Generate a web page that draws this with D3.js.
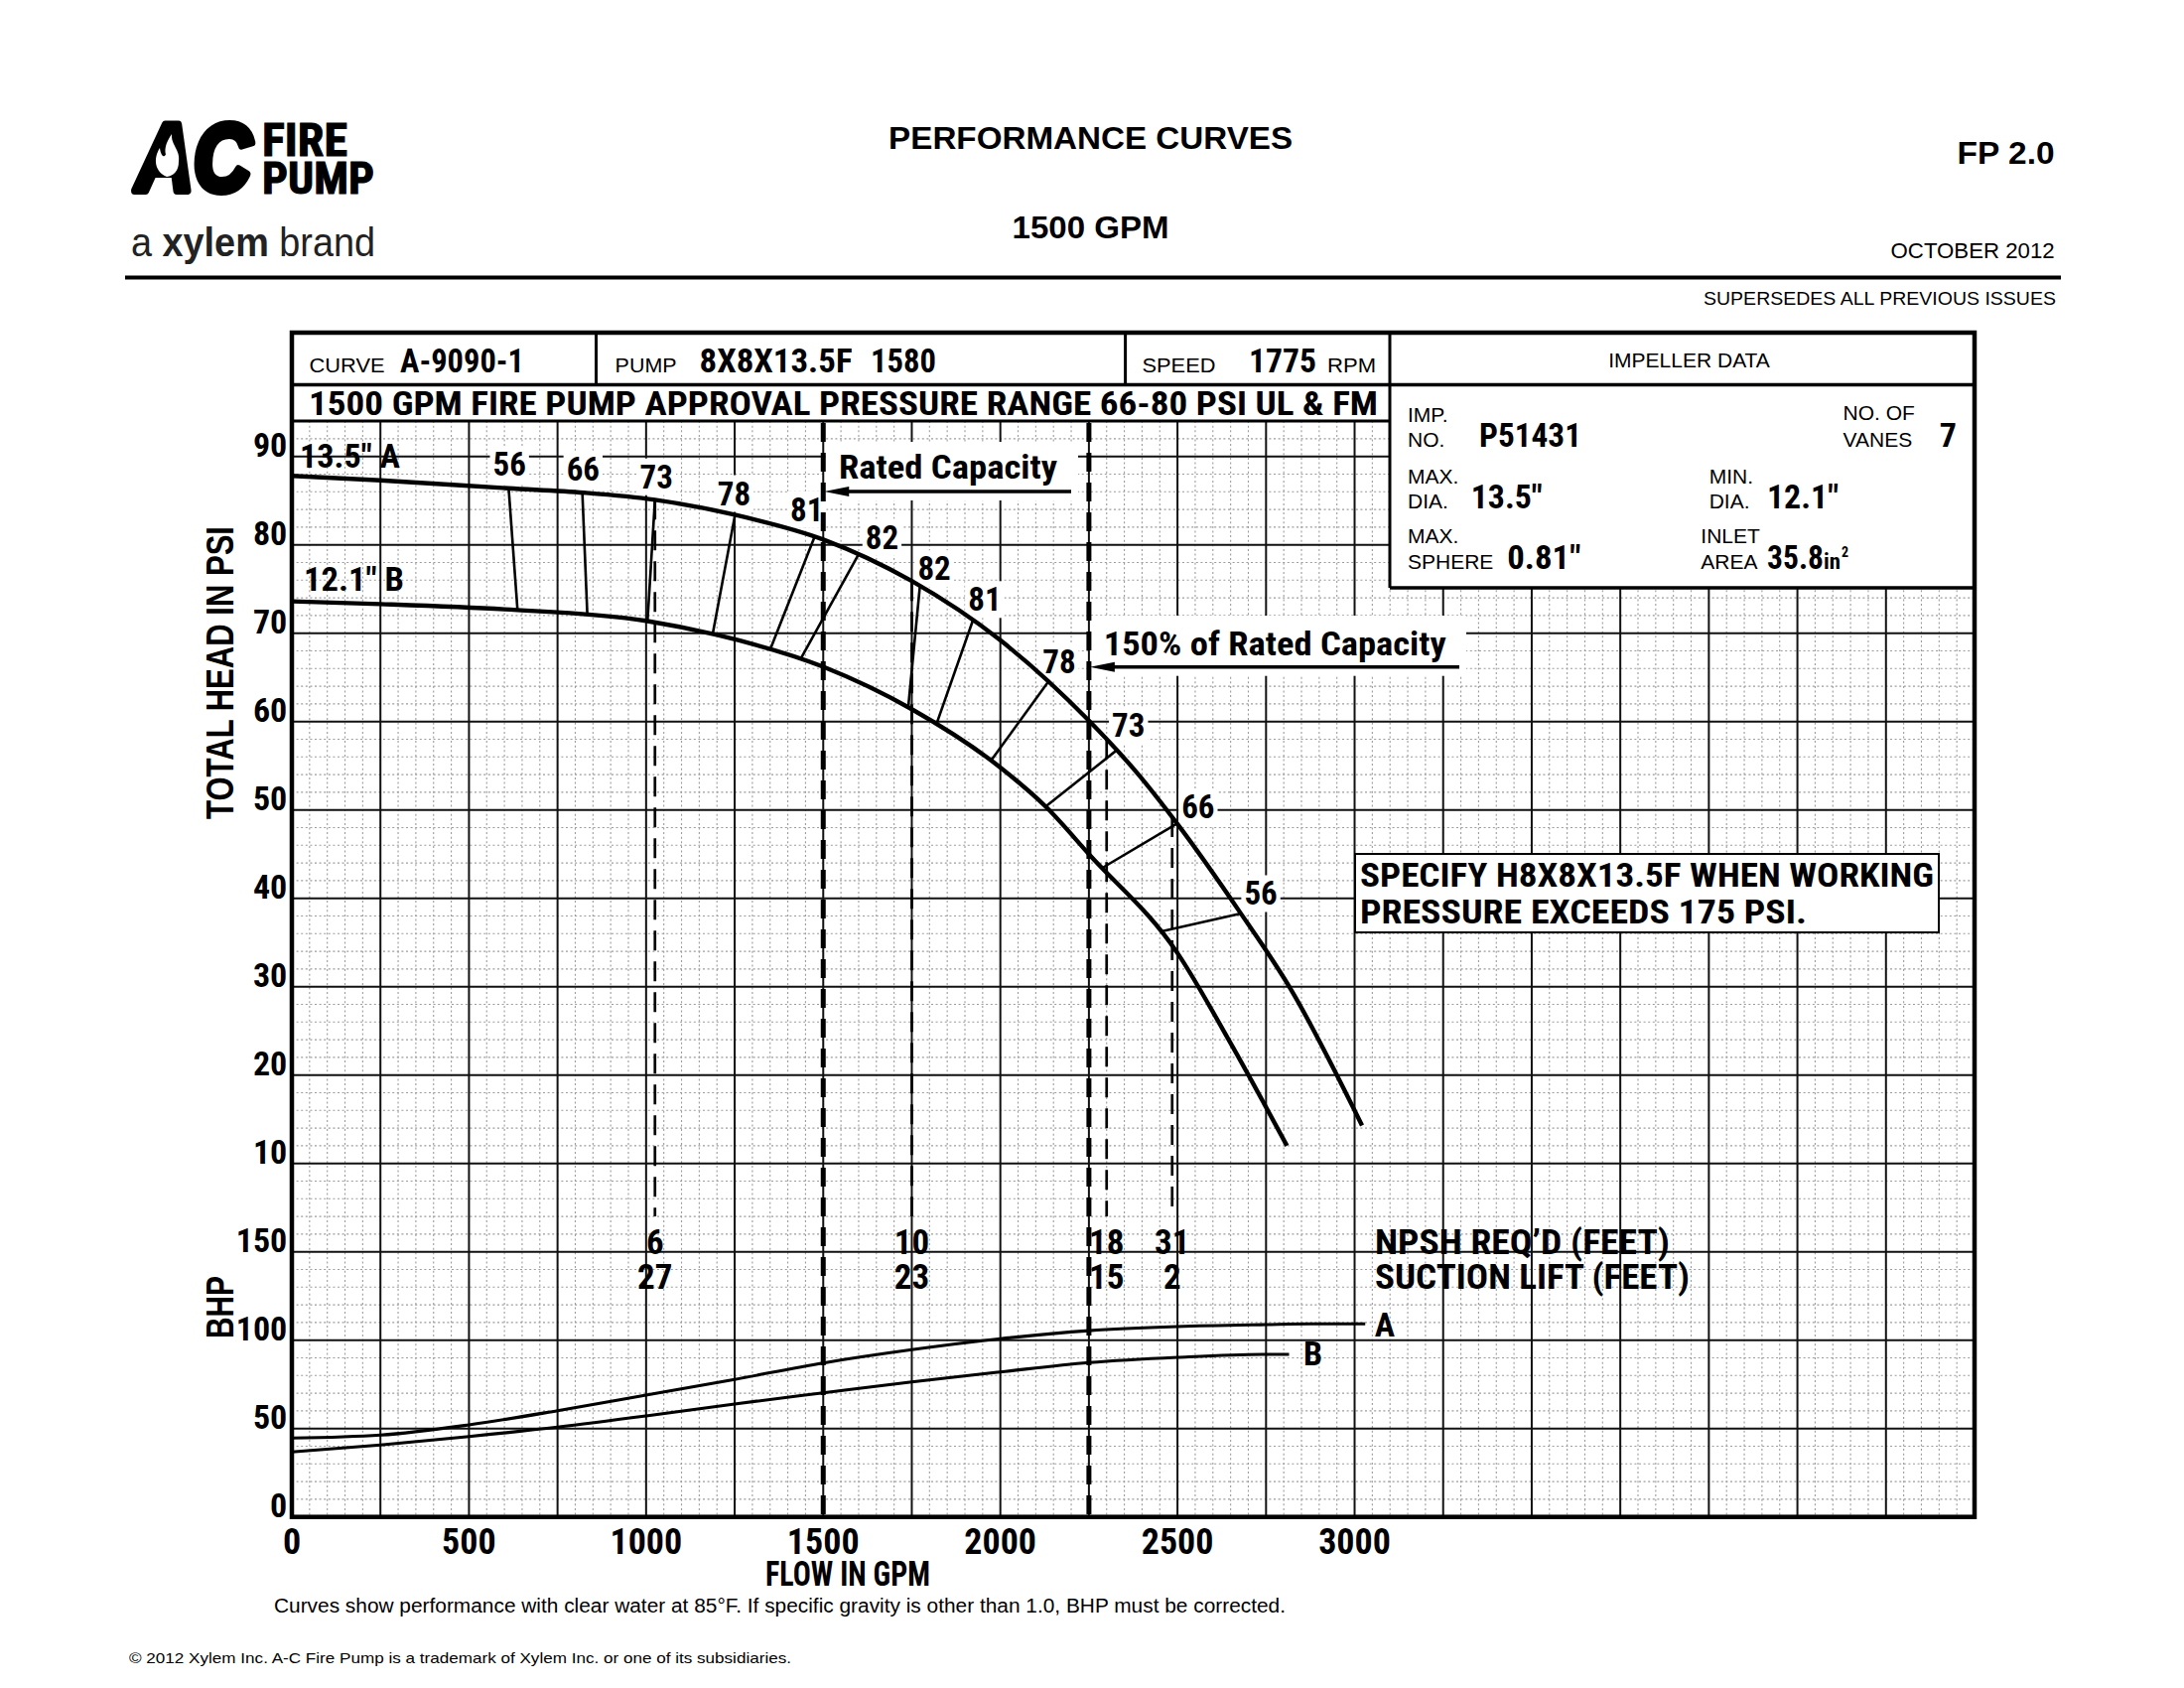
<!DOCTYPE html>
<html><head><meta charset="utf-8">
<script src="https://cdn.jsdelivr.net/npm/d3@7"></script>
<style>body{margin:0;background:#fff}svg{display:block}</style>
</head><body>
<svg id="c" width="2200" height="1700"></svg>
<script>
// ---------------- DATA ----------------
const flowTickLabels = [0, 500, 1000, 1500, 2000, 2500, 3000];
const headTickLabels = [10, 20, 30, 40, 50, 60, 70, 80, 90];
const bhpTickLabels = [0, 50, 100, 150];

// Head curves (psi vs GPM)
const headA_flow = [0, 250, 612, 825, 1025, 1250, 1500, 1750, 2000, 2250, 2390, 2500, 2670, 2820, 3021];
const headA_psi  = [87.8, 87.3, 86.4, 85.9, 85.1, 83.4, 80.6, 75.9, 69.2, 60.1, 54.0, 48.4, 38.8, 29.7, 14.3];
const headB_flow = [0, 250, 600, 1000, 1200, 1500, 1750, 2000, 2130, 2250, 2500, 2650, 2809];
const headB_psi  = [73.6, 73.3, 72.7, 71.4, 69.8, 66.2, 61.4, 54.8, 50.3, 45.0, 33.8, 23.6, 12.0];

// BHP curves
const bhpA_flow = [0, 250, 500, 750, 1000, 1250, 1500, 1750, 2000, 2250, 2500, 2750, 2876, 3030];
const bhpA_val  = [44.6, 46.3, 52.1, 60.1, 68.9, 77.8, 87.1, 94.6, 100.8, 105.4, 107.7, 108.8, 109.2, 109.2];
const bhpB_flow = [0, 250, 500, 750, 1000, 1250, 1500, 1750, 2000, 2250, 2500, 2750, 2815];
const bhpB_val  = [36.8, 40.7, 45.5, 50.8, 57.1, 63.9, 70.2, 76.4, 82.0, 87.3, 90.3, 92.0, 92.0];

// Efficiency iso-lines: label, flow where it meets curve A, flow where it meets curve B
const effLabels = ['56', '66', '73', '78', '81', '82', '82', '81', '78', '73', '66', '56'];
const effFlowA  = [612, 820, 1025, 1251, 1476, 1600, 1773, 1923, 2136, 2329, 2499, 2679];
const effFlowB  = [637, 834, 1004, 1188, 1351, 1437, 1740, 1820, 1974, 2128, 2287, 2455];

// NPSH / suction lift
const npshFlow    = [1025, 1750, 2300, 2485];
const npshReq     = ['6', '10', '18', '31'];
const suctionLift = ['27', '23', '15', '2'];

const ratedFlow = 1500;
const overloadFlow = 2250;

// ---------------- LAYOUT / STYLE ----------------
const NARROW = "'Liberation Sans Narrow','Arial Narrow','Roboto Condensed','DejaVu Sans Condensed','Liberation Sans',sans-serif";
const SANS = "'Liberation Sans',Arial,Helvetica,sans-serif";
// label nudges (px) relative to the curve-A end of each iso-line
const effNudge = [[0.8,-12.6],[0.7,-12],[1.5,-11.6],[-0.9,-10],[-8,-15.6],
                  [6.8,-5.5],[-2.3,-5.7],[-5,-9],[-6,-8],[-5,-13],[4.4,-5],[3.4,-8.6]];

const svg = d3.select('#c');
svg.append('rect').attr('width', 2200).attr('height', 1700).attr('fill', '#fff');

const x  = d3.scaleLinear().domain([0, 4750]).range([294, 1989]);
const yH = d3.scaleLinear().domain([0, 90]).range([1260.7, 459.7]);
const yB = d3.scaleLinear().domain([0, 150]).range([1527.7, 1260.7]);

const gGrid = svg.append('g');
const gBox  = svg.append('g');
const gBg   = svg.append('g');
const gFrame = svg.append('g');
const gLines = svg.append('g');
const gText  = svg.append('g');

function T(g, px, py, s, o = {}) {
  const t = g.append('text').attr('x', px).attr('y', py).text(s)
    .attr('font-family', o.ff || NARROW).attr('font-size', o.fs || 32)
    .attr('font-weight', o.fw || 'bold').attr('fill', '#000');
  if (o.anchor) t.attr('text-anchor', o.anchor);
  if (o.tl) t.attr('textLength', o.tl).attr('lengthAdjust', 'spacingAndGlyphs');
  return t;
}
function bgFor(node, pad = 3) {
  const b = node.getBBox();
  gBg.append('rect').attr('x', b.x - pad).attr('y', b.y + 4 - pad)
    .attr('width', b.width + 2 * pad).attr('height', b.height - 8 + 2 * pad).attr('fill', '#fff');
}

// ---------------- GRID ----------------
const gridTop = yH(94), gridBot = yB(0);
const minorX = d3.range(0, 4751, 50).filter(v => v % 250 !== 0);
const minorY = d3.range(-30, 94, 2).filter(v => v % 10 !== 0);
const majorX = d3.range(250, 4750, 250);
const majorY = d3.range(-20, 91, 10);

gGrid.selectAll('.mx').data(minorX).join('line')
  .attr('x1', d => x(d)).attr('x2', d => x(d)).attr('y1', gridTop).attr('y2', gridBot)
  .attr('stroke', '#9c9c9c').attr('stroke-width', 1.1).attr('stroke-dasharray', '2,2.6');
gGrid.selectAll('.my').data(minorY).join('line')
  .attr('x1', x(0)).attr('x2', x(4750)).attr('y1', d => yH(d)).attr('y2', d => yH(d))
  .attr('stroke', '#9c9c9c').attr('stroke-width', 1.1).attr('stroke-dasharray', '2,2.6');
gGrid.selectAll('.Mx').data(majorX).join('line')
  .attr('x1', d => x(d)).attr('x2', d => x(d)).attr('y1', gridTop).attr('y2', gridBot)
  .attr('stroke', '#111').attr('stroke-width', 2);
gGrid.selectAll('.My').data(majorY).join('line')
  .attr('x1', x(0)).attr('x2', x(4750)).attr('y1', d => yH(d)).attr('y2', d => yH(d))
  .attr('stroke', '#111').attr('stroke-width', 2);

// ---------------- HEADER TABLE ----------------
const tblTop = 335, row1 = 387.5, impBot = 592, impLeft = 1400;
gBox.append('rect').attr('x', impLeft).attr('y', tblTop).attr('width', x(4750) - impLeft).attr('height', impBot - tblTop).attr('fill', '#fff');
gBox.append('rect').attr('x', x(0)).attr('y', tblTop).attr('width', x(4750) - x(0)).attr('height', gridTop - tblTop).attr('fill', '#fff');

function fl(x1, y1, x2, y2, w) {
  gFrame.append('line').attr('x1', x1).attr('y1', y1).attr('x2', x2).attr('y2', y2)
    .attr('stroke', '#000').attr('stroke-width', w);
}
fl(x(0), row1, x(4750), row1, 3.5);
fl(x(0), gridTop, impLeft, gridTop, 3);
fl(impLeft, impBot, x(4750), impBot, 3.5);
fl(600.5, tblTop, 600.5, row1, 3);
fl(1133.6, tblTop, 1133.6, row1, 3);
fl(impLeft, tblTop, impLeft, impBot, 3);
gFrame.append('rect').attr('x', x(0)).attr('y', tblTop).attr('width', x(4750) - x(0)).attr('height', yB(0) - tblTop)
  .attr('fill', 'none').attr('stroke', '#000').attr('stroke-width', 4.5);

// ---------------- CURVES ----------------
const line = d3.line().x(d => x(d[0])).y(d => d[1]).curve(d3.curveMonotoneX);
const pA = gLines.append('path').attr('d', line(headA_flow.map((f, i) => [f, yH(headA_psi[i])])))
  .attr('fill', 'none').attr('stroke', '#000').attr('stroke-width', 4.4);
const pB = gLines.append('path').attr('d', line(headB_flow.map((f, i) => [f, yH(headB_psi[i])])))
  .attr('fill', 'none').attr('stroke', '#000').attr('stroke-width', 4.4);
const pBA = gLines.append('path').attr('d', line(bhpA_flow.map((f, i) => [f, yB(bhpA_val[i])])))
  .attr('fill', 'none').attr('stroke', '#000').attr('stroke-width', 3.1);
const pBB = gLines.append('path').attr('d', line(bhpB_flow.map((f, i) => [f, yB(bhpB_val[i])])))
  .attr('fill', 'none').attr('stroke', '#000').attr('stroke-width', 3.1);

function pointAtX(node, tx) {
  const L = node.getTotalLength(); let lo = 0, hi = L;
  for (let i = 0; i < 40; i++) { const m = (lo + hi) / 2; if (node.getPointAtLength(m).x < tx) lo = m; else hi = m; }
  return node.getPointAtLength((lo + hi) / 2);
}

// efficiency iso-lines + labels
effLabels.forEach((lab, i) => {
  const a = pointAtX(pA.node(), x(effFlowA[i]));
  const b = pointAtX(pB.node(), x(effFlowB[i]));
  gLines.append('line').attr('x1', a.x).attr('y1', a.y).attr('x2', b.x).attr('y2', b.y)
    .attr('stroke', '#000').attr('stroke-width', 2.6);
  const left = i < 5;
  const t = T(gText, a.x + effNudge[i][0], a.y + effNudge[i][1], lab, { fs: 33, anchor: left ? 'middle' : 'start' });
  bgFor(t.node(), 3);
});

// heavy dashed rated / 150% lines
[ratedFlow, overloadFlow].forEach(f => {
  gLines.append('line').attr('x1', x(f)).attr('x2', x(f)).attr('y1', gridTop + 2).attr('y2', yB(0))
    .attr('stroke', '#000').attr('stroke-width', 5).attr('stroke-dasharray', '19,11');
});

// thin dashed NPSH lines
npshFlow.forEach((f, i) => {
  const a = pointAtX(pA.node(), x(f));
  gLines.append('line').attr('x1', x(f)).attr('x2', x(f)).attr('y1', a.y).attr('y2', yH(4))
    .attr('stroke', '#000').attr('stroke-width', 2.7).attr('stroke-dasharray', '20,11');
  T(gText, x(f), 1263.3, npshReq[i], { fs: 35, anchor: 'middle' });
  T(gText, x(f), 1298.3, suctionLift[i], { fs: 35, anchor: 'middle' });
});

// arrows with labels
function arrowLabel(f, yArrow, xEnd, textX, textY, s, tl, bgTop) {
  gBg.append('rect').attr('x', x(f) + 2).attr('y', bgTop).attr('width', xEnd + 7 - x(f) - 2)
    .attr('height', yArrow + 9 - bgTop).attr('fill', '#fff');
  gLines.append('line').attr('x1', x(f) + 18).attr('x2', xEnd).attr('y1', yArrow).attr('y2', yArrow)
    .attr('stroke', '#000').attr('stroke-width', 3.6);
  gLines.append('path').attr('d', `M${x(f) + 1},${yArrow} L${x(f) + 26},${yArrow - 5} L${x(f) + 26},${yArrow + 5} Z`).attr('fill', '#000');
  T(gText, textX, textY, s, { fs: 34, tl: tl });
}
arrowLabel(ratedFlow, 495, 1079, 845, 481.7, 'Rated Capacity', 220, 445);
arrowLabel(overloadFlow, 671.7, 1470, 1111.7, 660, '150% of Rated Capacity', 345, 620);

// ---------------- TEXT ----------------
// Axis tick labels
headTickLabels.forEach(v => T(gText, 289.3, yH(v), String(v), { fs: 34, anchor: 'end' }));
bhpTickLabels.forEach(v => T(gText, 289.3, yB(v), String(v), { fs: 34, anchor: 'end' }));
flowTickLabels.forEach(v => T(gText, x(v), 1565, String(v), { fs: 36, anchor: 'middle' }));

// Axis titles
T(gText, 0, 0, 'TOTAL HEAD IN PSI', { ff: SANS, fs: 38, anchor: 'middle', tl: 295 })
  .attr('transform', 'translate(235,677.5) rotate(-90)');
T(gText, 0, 0, 'BHP', { ff: SANS, fs: 38, anchor: 'middle', tl: 63 })
  .attr('transform', 'translate(235,1316.5) rotate(-90)');
T(gText, 854, 1597, 'FLOW IN GPM', { fs: 35, anchor: 'middle', tl: 166 });

// curve labels
T(gText, 302, 471, '13.5" A', { fs: 33, tl: 101 });
T(gText, 306, 595, '12.1" B', { fs: 33, tl: 101 });
const endA = pointAtX(pBA.node(), x(bhpA_flow[bhpA_flow.length - 1]) - 0.5);
const endB = pointAtX(pBB.node(), x(bhpB_flow[bhpB_flow.length - 1]) - 0.5);
T(gText, endA.x + 10, endA.y + 13, 'A', { fs: 34 });
T(gText, endB.x + 15, endB.y + 11, 'B', { fs: 34 });

// NPSH titles
T(gText, 1385, 1263.3, 'NPSH REQ\u2019D (FEET)', { fs: 35, tl: 297 });
T(gText, 1385, 1298.3, 'SUCTION LIFT (FEET)', { fs: 35, tl: 317 });

// Specify box
gBg.append('rect').attr('x', 1365).attr('y', 860).attr('width', 588).attr('height', 79)
  .attr('fill', '#fff').attr('stroke', '#000').attr('stroke-width', 2);
T(gText, 1370, 893.3, 'SPECIFY H8X8X13.5F WHEN WORKING', { fs: 33, tl: 578 });
T(gText, 1370, 930, 'PRESSURE EXCEEDS 175 PSI.', { fs: 33, tl: 450 });

// Header row
T(gText, 311, 418.3, '1500 GPM FIRE PUMP APPROVAL PRESSURE RANGE 66-80 PSI UL & FM', { fs: 33, tl: 1077 });
T(gText, 311.6, 375, 'CURVE', { ff: SANS, fs: 21, fw: 'normal', tl: 76 });
T(gText, 403, 375, 'A-9090-1', { fs: 33, tl: 125 });
T(gText, 619.6, 375, 'PUMP', { ff: SANS, fs: 21, fw: 'normal', tl: 62 });
T(gText, 704.5, 375, '8X8X13.5F', { fs: 33, tl: 154 });
T(gText, 877, 375, '1580', { fs: 33, tl: 66 });
T(gText, 1150.5, 375, 'SPEED', { ff: SANS, fs: 21, fw: 'normal', tl: 74 });
T(gText, 1258, 375, '1775', { fs: 33, tl: 68 });
T(gText, 1337, 375, 'RPM', { ff: SANS, fs: 21, fw: 'normal', tl: 49 });
T(gText, 1701.6, 370, 'IMPELLER DATA', { ff: SANS, fs: 21, fw: 'normal', anchor: 'middle' });

// Impeller data
const sm = { ff: SANS, fs: 21, fw: 'normal' };
T(gText, 1418, 425, 'IMP.', sm); T(gText, 1418, 450, 'NO.', sm);
T(gText, 1490, 450, 'P51431', { fs: 34, tl: 103 });
T(gText, 1856.6, 423.3, 'NO. OF', sm); T(gText, 1856.6, 450, 'VANES', sm);
T(gText, 1953.7, 450, '7', { fs: 34 });
T(gText, 1418, 486.7, 'MAX.', sm); T(gText, 1418, 511.7, 'DIA.', sm);
T(gText, 1481.7, 511.7, '13.5"', { fs: 34, tl: 72 });
T(gText, 1721.7, 486.7, 'MIN.', sm); T(gText, 1721.7, 511.7, 'DIA.', sm);
T(gText, 1780, 511.7, '12.1"', { fs: 34, tl: 72 });
T(gText, 1418, 546.7, 'MAX.', sm); T(gText, 1418, 573.3, 'SPHERE', sm);
T(gText, 1518.3, 573.3, '0.81"', { fs: 34, tl: 74 });
T(gText, 1713.3, 546.7, 'INLET', sm); T(gText, 1713.3, 573.3, 'AREA', sm);
T(gText, 1780, 573.3, '35.8', { fs: 34, tl: 57 });
T(gText, 1837, 573.3, 'in', { fs: 22, tl: 17 });
T(gText, 1855, 561, '2', { fs: 14 });

// Page header
T(gText, 1098.6, 150, 'PERFORMANCE CURVES', { ff: SANS, fs: 32, anchor: 'middle', tl: 407 });
T(gText, 1098.6, 240, '1500 GPM', { ff: SANS, fs: 32, anchor: 'middle', tl: 158 });
T(gText, 2069.6, 165, 'FP 2.0', { ff: SANS, fs: 32, anchor: 'end', tl: 98 });
T(gText, 2069.6, 260, 'OCTOBER 2012', { ff: SANS, fs: 22, fw: 'normal', anchor: 'end', tl: 165 });
T(gText, 2071, 306.7, 'SUPERSEDES ALL PREVIOUS ISSUES', { ff: SANS, fs: 17.5, fw: 'normal', anchor: 'end', tl: 355 });
fl(126, 279.5, 2076, 279.5, 4);

// Logo
T(gText, 137, 192, 'AC', { ff: SANS, fs: 96, fw: '900', tl: 116 })
  .attr('font-style', 'italic').attr('stroke', '#000').attr('stroke-width', 8).attr('stroke-linejoin', 'round');
gText.append('path').attr('d', 'M168,178 C156,173 154,160 161,149 C162,157 165,159 167,156 C165,148 169,141 173,135 C172,146 182,151 180,163 C180,172 175,177 168,178 Z')
  .attr('fill', '#fff');
T(gText, 264, 157, 'FIRE', { fs: 46, tl: 86 }).attr('stroke', '#000').attr('stroke-width', 1);
T(gText, 264, 195, 'PUMP', { fs: 45, tl: 113 }).attr('stroke', '#000').attr('stroke-width', 1);
const br = gText.append('text').attr('x', 132).attr('y', 258).attr('font-family', SANS).attr('font-size', 40)
  .attr('fill', '#222').attr('textLength', 246).attr('lengthAdjust', 'spacingAndGlyphs');
br.append('tspan').text('a ');
br.append('tspan').attr('font-weight', 'bold').text('xylem');
br.append('tspan').text(' brand');

// Footnotes
T(gText, 276, 1624, 'Curves show performance with clear water at 85\u00B0F. If specific gravity is other than 1.0, BHP must be corrected.', { ff: SANS, fs: 19.5, fw: 'normal', tl: 1019 });
T(gText, 130, 1675, '\u00A9 2012 Xylem Inc. A-C Fire Pump is a trademark of Xylem Inc. or one of its subsidiaries.', { ff: SANS, fs: 15, fw: 'normal', tl: 667 });
</script>
</body></html>
